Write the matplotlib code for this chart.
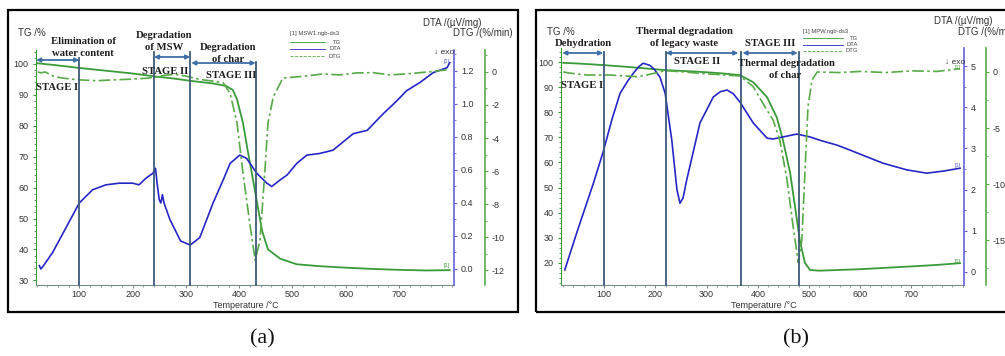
import matplotlib
matplotlib.use('Agg')
import matplotlib.pyplot as plt
from matplotlib.ticker import MultipleLocator, FormatStrFormatter
from matplotlib.patches import Rectangle
from matplotlib.lines import Line2D

plt.rcParams['axes.unicode_minus'] = False

# ---------------- data : panel (a) MSW ----------------
a_tg_T = [22, 50, 100, 150, 200, 240, 280, 310, 350, 375, 388, 396, 407, 416, 426,
          435, 443, 454, 477, 508, 550, 600, 650, 700, 750, 795]
a_tg = [100.2, 99.7, 98.7, 97.8, 96.9, 96.0, 95.2, 94.5, 93.7, 92.9, 91.6, 88.5, 81, 72,
        62.5, 53.7, 46, 40, 37, 35.2, 34.6, 34.1, 33.7, 33.4, 33.2, 33.3]

a_dta_T = [25, 28, 35, 50, 75, 100, 125, 150, 175, 200, 212, 225, 238, 243, 246, 250,
           253, 256, 259, 270, 290, 308, 326, 351, 370, 383, 401, 414, 433, 452, 461,
           477, 490, 508, 527, 551, 576, 595, 614, 640, 670, 696, 714, 739, 764, 790, 795]
a_dta = [0.02, 0.0, 0.03, 0.10, 0.25, 0.40, 0.48, 0.51, 0.52, 0.52, 0.51, 0.55, 0.58,
         0.61, 0.52, 0.42, 0.40, 0.45, 0.40, 0.30, 0.17, 0.145, 0.19, 0.40, 0.54, 0.64,
         0.69, 0.67, 0.58, 0.52, 0.50, 0.54, 0.57, 0.64, 0.69, 0.70, 0.72, 0.77, 0.82,
         0.84, 0.94, 1.02, 1.08, 1.13, 1.19, 1.22, 1.25]

a_dtg_T = [22, 28, 36, 45, 55, 77, 100, 133, 163, 195, 227, 245, 260, 280, 300, 326,
           350, 370, 383, 396, 407, 420, 430, 439, 448, 454, 464, 482, 527, 557, 589,
           620, 651, 683, 720, 760, 795]
a_dtg = [0.0, -0.05, 0.0, -0.15, -0.3, -0.4, -0.48, -0.53, -0.48, -0.44, -0.38, -0.3,
         -0.2, -0.15, -0.25, -0.45, -0.55, -0.65, -1.3, -3.1, -6.1, -9.2, -11.4, -10.2,
         -6.1, -3.1, -1.5, -0.37, -0.24, -0.12, -0.18, -0.06, -0.04, -0.18, -0.1, 0.02, 0.15]

a_stages = [100, 240, 308, 432]

# ---------------- data : panel (b) MPW ----------------
b_tg_T = [20, 50, 98, 150, 219, 280, 330, 365, 391, 418, 437, 449, 463, 473, 482, 492,
          502, 520, 547, 600, 645, 700, 750, 795]
b_tg = [99.7, 99.4, 98.8, 98.0, 96.8, 96.2, 95.5, 94.8, 92, 86, 78, 69, 56, 42, 29, 20,
        17.2, 16.9, 17.1, 17.5, 18.0, 18.6, 19.2, 19.9]

b_dta_T = [23, 46, 79, 98, 115, 131, 145, 157, 167, 176, 189, 198, 209, 219, 232, 242,
           248, 254, 261, 267, 287, 313, 327, 340, 352, 365, 391, 418, 430, 457, 476,
           502, 521, 555, 580, 645, 691, 730, 762, 795]
b_dta = [0.05, 0.94, 2.16, 2.92, 3.7, 4.34, 4.62, 4.83, 4.98, 5.07, 5.02, 4.92, 4.73,
         4.34, 3.2, 2.0, 1.67, 1.8, 2.23, 2.55, 3.62, 4.25, 4.38, 4.42, 4.33, 4.13, 3.62,
         3.25, 3.23, 3.30, 3.35, 3.28, 3.2, 3.08, 2.96, 2.64, 2.48, 2.40, 2.45, 2.52]

b_dtg_T = [20, 33, 66, 111, 164, 183, 219, 248, 287, 330, 365, 391, 410, 430, 443, 457,
           469, 479, 486, 492, 498, 506, 516, 560, 600, 650, 700, 750, 795]
b_dtg = [0.0, -0.1, -0.27, -0.27, -0.42, -0.27, 0.12, 0.03, -0.12, -0.25, -0.36, -1.3,
         -2.8, -4.3, -6.1, -9.6, -13.8, -17.0, -15.0, -9.0, -3.1, -0.7, 0.0, -0.05, 0.05,
         -0.05, 0.1, 0.05, 0.3]

b_stages = [100, 220, 368, 480]

# ---------------- figure ----------------
W, H = 1005, 356
fig = plt.figure(figsize=(W / 100, H / 100), dpi=100)
fig.patch.set_facecolor('white')

SERIF = ['Liberation Serif', 'DejaVu Serif']
SANS = ['Liberation Sans', 'DejaVu Sans']

C_TG = '#3a9a3a'
C_DTG = '#58aa48'
C_DTA = '#2626c4'
C_DTA_SP = '#6464d8'
C_VL = '#3d5a78'
C_ARR = '#3e6ea8'
C_TXT = '#333333'


def fx(x):
    return x / W


def fy(y):
    return 1 - y / H


def ptext(x, y, s, **kw):
    fig.text(fx(x), fy(y), s, **kw)


def stage_text(x, y, s, size=7.7):
    ptext(x, y, s, ha='center', va='center', fontsize=size, fontweight='bold',
          family=SERIF, color='#1e1e1e')


def make_panel(left, right, top, bottom, xlim, tg_lim, dta_lim, dtg_lim, off_px,
               tg_step, dta_step, dta_minor, dtg_step, dtg_minor, dta_fmt,
               tgT, tg, dtaT, dta, dtgT, dtg, stages, vtops, arrows):
    ax = fig.add_axes([fx(left), fy(bottom), fx(right - left), (bottom - top) / H])
    ax.set_xlim(*xlim)
    ax.set_ylim(*tg_lim)
    ax.plot(tgT, tg, color=C_TG, lw=1.3)
    for s in ['top', 'right']:
        ax.spines[s].set_visible(False)
    ax.spines['left'].set_color(C_TG)
    ax.spines['bottom'].set_color('#7a8a8a')
    ax.xaxis.set_minor_locator(MultipleLocator(20))
    ax.yaxis.set_major_locator(MultipleLocator(tg_step))
    ax.yaxis.set_minor_locator(MultipleLocator(2))
    ax.set_xticks([t for t in range(100, 800, 100)])
    ax.tick_params(axis='x', which='both', colors='#7a8a8a', labelcolor=C_TXT,
                   labelsize=6.5, length=2, pad=1.5)
    ax.tick_params(axis='x', which='minor', length=1.2)
    ax.tick_params(axis='y', which='both', colors=C_TG, labelcolor=C_TXT,
                   labelsize=6.5, length=2.5, pad=3)
    ax.tick_params(axis='y', which='minor', length=1.5)
    for lab in ax.get_xticklabels() + ax.get_yticklabels():
        lab.set_family(SANS)

    ax2 = ax.twinx()
    ax2.set_ylim(*dta_lim)
    ax2.plot(dtaT, dta, color=C_DTA, lw=1.2)
    for s in ['top', 'left', 'bottom']:
        ax2.spines[s].set_visible(False)
    ax2.spines['right'].set_color(C_DTA_SP)
    ax2.spines['right'].set_linewidth(1.2)
    ax2.yaxis.set_major_locator(MultipleLocator(dta_step))
    ax2.yaxis.set_minor_locator(MultipleLocator(dta_minor))
    ax2.yaxis.set_major_formatter(FormatStrFormatter(dta_fmt))
    ax2.tick_params(axis='y', which='both', colors=C_DTA_SP, labelcolor=C_TXT,
                    labelsize=6.5, length=2.5, pad=2.5)
    ax2.tick_params(axis='y', which='minor', length=1.5)
    for lab in ax2.get_yticklabels():
        lab.set_family(SANS)

    ax3 = ax.twinx()
    ax3.set_ylim(*dtg_lim)
    ax3.plot(dtgT, dtg, color=C_DTG, lw=1.2, linestyle=(0, (7, 2, 1.5, 2)))
    for s in ['top', 'left', 'bottom']:
        ax3.spines[s].set_visible(False)
    ax3.spines['right'].set_position(('outward', off_px * 0.72))
    ax3.spines['right'].set_color(C_DTG)
    ax3.spines['right'].set_linewidth(1.2)
    ax3.yaxis.set_major_locator(MultipleLocator(dtg_step))
    ax3.yaxis.set_minor_locator(MultipleLocator(dtg_minor))
    ax3.yaxis.set_major_formatter(FormatStrFormatter('%d'))
    ax3.tick_params(axis='y', which='both', colors=C_DTG, labelcolor=C_TXT,
                    labelsize=6.5, length=2.5, pad=2.5)
    ax3.tick_params(axis='y', which='minor', length=1.5)
    for lab in ax3.get_yticklabels():
        lab.set_family(SANS)

    tr = ax3.get_xaxis_transform()
    span = bottom - top
    for xs, yt in zip(stages, vtops):
        ax3.plot([xs, xs], [0, (bottom - yt) / span], transform=tr, color=C_VL,
                 lw=1.3, clip_on=False)
    for (x0, x1, ya) in arrows:
        yf = (bottom - ya) / span
        ax3.annotate('', xy=(x1, yf), xytext=(x0, yf), xycoords=tr, textcoords=tr,
                     arrowprops=dict(arrowstyle='<|-|>', color=C_ARR, lw=1.3,
                                     mutation_scale=6, shrinkA=0, shrinkB=0),
                     annotation_clip=False)

    handles = [Line2D([], [], color=C_TG, lw=0.6),
               Line2D([], [], color=C_DTA, lw=0.6),
               Line2D([], [], color=C_DTG, lw=0.6, linestyle=(0, (5, 2, 1, 2)))]
    return ax, ax2, ax3, handles


# panel (a)
ax_a, ax2_a, ax3_a, h_a = make_panel(
    36, 454, 50, 285, (18.8, 803), (28.5, 104.5), (-0.097, 1.327), (-12.9, 1.33), 31,
    10, 0.2, 0.1, 2, 1, '%.1f',
    a_tg_T, a_tg, a_dta_T, a_dta, a_dtg_T, a_dtg, a_stages, [58, 52, 52, 62],
    [(19, 100, 60), (240, 308, 57), (310, 431, 63)])

# panel (b)
ax_b, ax2_b, ax3_b, h_b = make_panel(
    561, 964, 48, 285, (15.6, 802.7), (11.2, 105.6), (-0.316, 5.44), (-19.0, 2.14), 22,
    10, 1, 0.5, 5, 2.5, '%d',
    b_tg_T, b_tg, b_dta_T, b_dta, b_dtg_T, b_dtg, b_stages, [52, 52, 52, 52],
    [(18, 98, 53), (220, 362, 53), (370, 478, 53)])


def mini_legend(x0, x1, xr, ytitle, ys, title, hs):
    ptext(x0, ytitle, title, ha='left', va='center', fontsize=4.2, family=SANS,
          color='#444444')
    for h, y, lab in zip(hs, ys, ['TG', 'DTA', 'DTG']):
        fig.add_artist(Line2D([fx(x0), fx(x1)], [fy(y), fy(y)], color=h.get_color(),
                              lw=0.6, linestyle=h.get_linestyle(),
                              transform=fig.transFigure))
        ptext(xr, y, lab, ha='right', va='center', fontsize=4.2, family=SANS,
              color='#444444')


mini_legend(290, 325, 341, 34, [42, 49, 56], '[1] MSW1.ngb-ds3', h_a)
mini_legend(803, 843, 858, 31, [38, 44.5, 51], '[1] MPW.ngb-ds3', h_b)

# axis titles
ptext(32, 33, 'TG /%', ha='center', va='center', fontsize=7, family=SANS, color=C_TXT)
ptext(452, 23, 'DTA /(µV/mg)', ha='center', va='center', fontsize=7, family=SANS, color=C_TXT)
ptext(453, 33, 'DTG /(%/min)', ha='left', va='center', fontsize=7, family=SANS, color=C_TXT)
ptext(444, 52, '↓ exo', ha='center', va='center', fontsize=6, family=SANS, color=C_TXT)
ptext(246, 306, 'Temperature /°C', ha='center', va='center', fontsize=6.5, family=SANS, color=C_TXT)

ptext(561, 32, 'TG /%', ha='center', va='center', fontsize=7, family=SANS, color=C_TXT)
ptext(963, 21, 'DTA /(µV/mg)', ha='center', va='center', fontsize=7, family=SANS, color=C_TXT)
ptext(958, 32, 'DTG /(%/min)', ha='left', va='center', fontsize=7, family=SANS, color=C_TXT)
ptext(955, 62, '↓ exo', ha='center', va='center', fontsize=6, family=SANS, color=C_TXT)
ptext(764, 306, 'Temperature /°C', ha='center', va='center', fontsize=6.5, family=SANS, color=C_TXT)

# [1] curve tags
ptext(447, 62, '[1]', ha='center', va='center', fontsize=4, family=SANS, color=C_DTA_SP)
ptext(447, 266, '[1]', ha='center', va='center', fontsize=4, family=SANS, color=C_TG)
ptext(958, 68, '[1]', ha='center', va='center', fontsize=4, family=SANS, color=C_DTG)
ptext(958, 166, '[1]', ha='center', va='center', fontsize=4, family=SANS, color=C_DTA_SP)
ptext(958, 261, '[1]', ha='center', va='center', fontsize=4, family=SANS, color=C_TG)

# stage annotations panel (a)
stage_text(83, 42, 'Elimination of')
stage_text(83, 53, 'water content')
stage_text(164, 35, 'Degradation')
stage_text(164, 47, 'of MSW')
stage_text(228, 47, 'Degradation')
stage_text(228, 59, 'of char')
stage_text(57, 88, 'STAGE I')
stage_text(165, 71, 'STAGE II')
stage_text(231, 75, 'STAGE III')

# stage annotations panel (b)
stage_text(583, 43, 'Dehydration')
stage_text(684, 32, 'Thermal degradation')
stage_text(684, 44, 'of legacy waste')
stage_text(582, 86, 'STAGE I')
stage_text(697, 62, 'STAGE II')
stage_text(770, 43, 'STAGE III')
stage_text(786, 63, 'Thermal degradation')
stage_text(785, 75, 'of char')

# panel labels
ptext(262, 339, '(a)', ha='center', va='center', fontsize=16, family=SERIF, color='#111111')
ptext(796, 339, '(b)', ha='center', va='center', fontsize=16, family=SERIF, color='#111111')

# panel frames
fig.add_artist(Rectangle((fx(8), fy(312)), fx(510), (312 - 10) / H, fill=False,
                         lw=1.6, edgecolor='black', transform=fig.transFigure))
fig.add_artist(Rectangle((fx(536), fy(312)), fx(480), (312 - 10) / H, fill=False,
                         lw=1.6, edgecolor='black', transform=fig.transFigure,
                         clip_on=False))

fig.savefig('out.png', dpi=100, facecolor='white')
